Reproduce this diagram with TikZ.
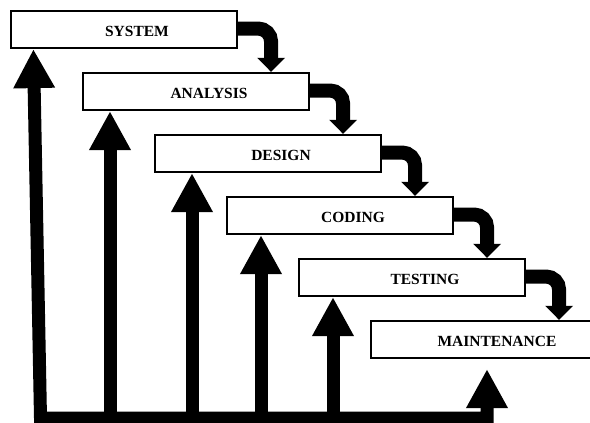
\documentclass[tikz,border=0pt]{standalone}
\usepackage{fontspec}
\setmainfont{Liberation Serif}
\usetikzlibrary{arrows.meta,positioning}

\tikzset{
  stage/.style={draw, line width=2.2pt, minimum width=226pt, minimum height=37pt,
    inner sep=0pt,
    label={[xshift=13pt, yshift=-1.5pt, font=\fontsize{15.5}{18}\selectfont\bfseries]center:#1}},
  steparrow/.style={line width=14pt, rounded corners=13pt,
    -{Triangle[width=27pt,length=14pt]}},
  uparrow/.style={line width=13pt, -{Triangle[width=39pt,length=39pt]}},
  frame/.style={line width=13pt,
    {Triangle[width=39pt,length=39pt]}-{Triangle[width=39pt,length=39pt]}}
}

\begin{document}
\begin{tikzpicture}[x=1pt,y=-1pt,node distance=62pt and 72pt,on grid]
\useasboundingbox (0,0) rectangle (590,423);
\clip (0,0) rectangle (590,423);

% the stages
\node[stage=SYSTEM]      (sys)              at (124,29.5) {};
\node[stage=ANALYSIS]    (ana)  [below right=of sys]  {};
\node[stage=DESIGN]      (des)  [below right=of ana]  {};
\node[stage=CODING]      (cod)  [below right=of des]  {};
\node[stage=TESTING]     (tst)  [below right=of cod]  {};
\node[stage=MAINTENANCE] (mnt)  [below right=of tst]  {};

% steps down
\draw[steparrow] ([yshift=1pt]sys.east) -| ([xshift=33pt]sys.east |- ana.north);
\draw[steparrow] ([yshift=1pt]ana.east) -| ([xshift=33pt]ana.east |- des.north);
\draw[steparrow] ([yshift=1pt]des.east) -| ([xshift=33pt]des.east |- cod.north);
\draw[steparrow] ([yshift=1pt]cod.east) -| ([xshift=33pt]cod.east |- tst.north);
\draw[steparrow] ([yshift=1pt]tst.east) -| ([xshift=33pt]tst.east |- mnt.north);

% feedback
\coordinate (t1) at ([xshift=23.5pt]sys.south west);
\coordinate (b1) at (40.5,418);
\coordinate (b2) at (110,418);
\coordinate (b3) at (192,418);
\coordinate (b4) at (261,418);
\coordinate (b5) at (333,418);
\coordinate (b6) at (487,418);
\coordinate (t6) at ([yshift=-10pt]mnt.south -| b6);

\draw[frame] (t1) -- (b1) -- (b6) -- (t6);
\draw[uparrow] (b2) -- (b2 |- ana.south);
\draw[uparrow] (b3) -- (b3 |- des.south);
\draw[uparrow] (b4) -- (b4 |- cod.south);
\draw[uparrow] (b5) -- (b5 |- tst.south);
\end{tikzpicture}
\end{document}
